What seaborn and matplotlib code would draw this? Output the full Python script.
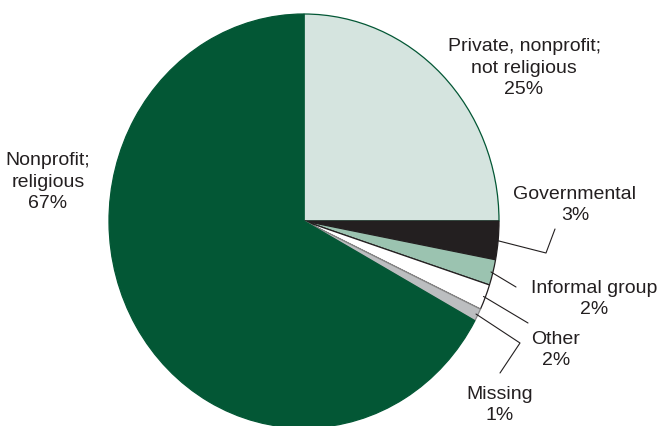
import numpy as np
import matplotlib
matplotlib.use("Agg")
import matplotlib.pyplot as plt
import seaborn as sns

sns.set_style("white")
plt.rcParams['font.family'] = ['Liberation Sans', 'DejaVu Sans']

categories = ["Private, nonprofit;\nnot religious", "Governmental", "Informal group",
              "Other", "Missing", "Nonprofit;\nreligious"]
values = [25, 3, 2, 2, 1, 67]
colors = ["#d5e4df", "#231f20", "#9bc3b0", "#ffffff", "#bcbec0", "#035735"]
edges = ["#035735", "#231f20", "#231f20", "#231f20", "#888888", "#035735"]

W, H = 660, 426
fig = plt.figure(figsize=(W / 100, H / 100), dpi=100)
ax = fig.add_axes([0, 0, 1, 1])

# pie geometry in pixels (slightly elliptical)
cx, cy, rx, ry = 304, 221, 195, 207

wedges, _ = ax.pie(values, colors=colors, startangle=90, counterclock=False,
                   wedgeprops=dict(linewidth=0.9))
for w, e in zip(wedges, edges):
    w.set_edgecolor(e)

ax.set_aspect('auto')
ax.set_xlim(-cx / rx, (W - cx) / rx)
ax.set_ylim(-(H - cy) / ry, cy / ry)


def px(x, y):
    return (x - cx) / rx, (cy - y) / ry


def edge_pt(i, frac=1.0):
    w = wedges[i]
    a = np.deg2rad((w.theta1 + w.theta2) / 2)
    return frac * np.cos(a), frac * np.sin(a)


fs = 14
labels = [f"{c}\n{v}%" for c, v in zip(categories, values)]
label_pos = [(524, 68), (575, 205), (594, 299), (556, 350), (500, 405), (48, 182)]
for lab, (lx, ly) in zip(labels, label_pos):
    x, y = px(lx, ly)
    ax.text(x, y, lab, ha='center', va='center', fontsize=fs, color='#231f20',
            linespacing=1.38)

# leader lines
leaders = {
    1: [(546, 253), (555, 229)],
    2: [(516, 287)],
    3: [(528, 323)],
    4: [(520, 343), (500, 373)],
}
for i, pts in leaders.items():
    sx, sy = edge_pt(i, 0.99)
    xs = [sx] + [px(a, b)[0] for a, b in pts]
    ys = [sy] + [px(a, b)[1] for a, b in pts]
    ax.plot(xs, ys, color='#231f20', lw=0.8, clip_on=False)

fig.savefig("out.png", dpi=100)
